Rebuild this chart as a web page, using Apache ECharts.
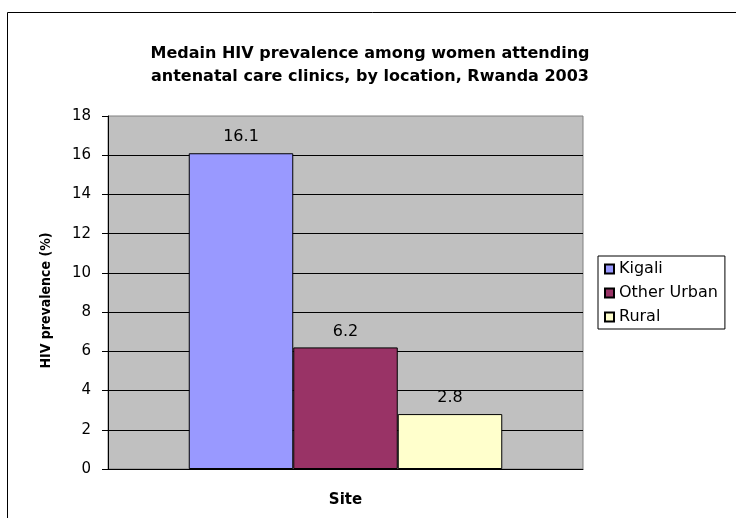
<!DOCTYPE html>
<html><head><meta charset="utf-8">
<script src="https://cdn.jsdelivr.net/npm/echarts@6/dist/echarts.min.js"></script>
<style>html,body{margin:0;padding:0;background:#fff}#c{width:736px;height:518px}</style>
</head><body><div id="c"></div>
<script>
const categories = ['Site'];
const seriesNames = ['Kigali', 'Other Urban', 'Rural'];
const values = [16.1, 6.2, 2.8];
const colors = ['#9999ff', '#993366', '#ffffcc'];
const yTicks = {min: 0, max: 18, interval: 2};

const F = '"DejaVu Sans", Arial, sans-serif';
const chart = echarts.init(document.getElementById('c'));
chart.setOption({
  animation: false,
  backgroundColor: '#fff',
  textStyle: {fontFamily: F},
  title: {
    text: 'Medain HIV prevalence among women attending\nantenatal care clinics, by location, Rwanda 2003',
    left: 365, top: 37, textAlign: 'center',
    textStyle: {fontSize: 16, fontWeight: 'bold', color: '#000', lineHeight: 23, fontFamily: F}
  },
  graphic: [{
    type: 'rect', shape: {x: 7.5, y: 12.5, width: 740, height: 520},
    style: {fill: 'none', stroke: '#000', lineWidth: 1}, silent: true
  }],
  legend: {
    orient: 'vertical', left: 598, top: 256,
    itemWidth: 9, itemHeight: 9, itemGap: 8,
    padding: [5, 7, 4, 6],
    borderColor: '#000', borderWidth: 1,
    icon: 'rect',
    textStyle: {fontSize: 16, color: '#000', lineHeight: 16, padding: [0, 0, 0, 0], fontFamily: F},
    data: seriesNames
  },
  grid: {left: 108, top: 116, width: 475, height: 353, show: true, backgroundColor: '#c0c0c0', borderColor: '#808080', borderWidth: 1},
  xAxis: {
    type: 'category', data: categories,
    axisLabel: {show: false}, axisTick: {show: false},
    axisLine: {lineStyle: {color: '#000'}},
    name: 'Site', nameLocation: 'middle', nameGap: 24,
    nameTextStyle: {fontSize: 15, fontWeight: 'bold', color: '#000', fontFamily: F}
  },
  yAxis: {
    type: 'value', min: yTicks.min, max: yTicks.max, interval: yTicks.interval,
    axisLine: {show: true, lineStyle: {color: '#000'}},
    axisTick: {show: true, length: 6, lineStyle: {color: '#000'}},
    axisLabel: {fontSize: 15, color: '#000', margin: 17, fontFamily: F},
    splitLine: {showMaxLine: false, lineStyle: {color: '#000', width: 1}},
    name: 'HIV prevalence (%)', nameLocation: 'middle', nameGap: 55, nameRotate: 90,
    nameTextStyle: {fontSize: 14, fontWeight: 'bold', color: '#000', padding: [0, 16, 0, 0], fontFamily: '"DejaVu Sans Condensed", "DejaVu Sans", sans-serif'}
  },
  series: seriesNames.map((n, i) => ({
    name: n, type: 'bar', data: [values[i]],
    barGap: '0%', barCategoryGap: '34%',
    itemStyle: {color: colors[i], borderColor: '#000', borderWidth: 1},
    label: {show: true, position: 'top', distance: 8, fontSize: 16, color: '#000', fontFamily: F}
  }))
});
</script></body></html>
